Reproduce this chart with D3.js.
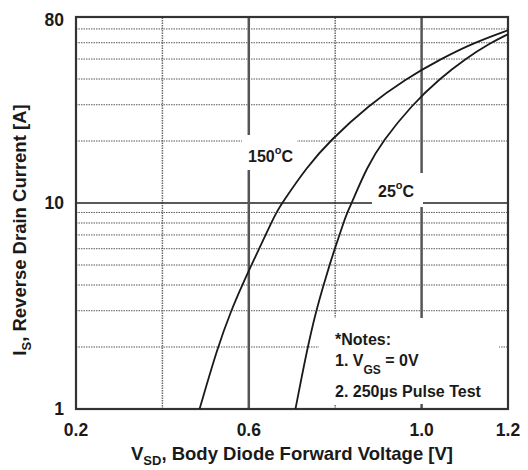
<!DOCTYPE html>
<html>
<head>
<meta charset="utf-8">
<script src="https://cdn.jsdelivr.net/npm/d3@7"></script>
<style>
  html, body { margin: 0; padding: 0; background: #fff; }
  svg { display: block; }
  text { font-family: "Liberation Sans", Arial, sans-serif; font-weight: bold; fill: #1a1a1a; }
</style>
</head>
<body>
<svg id="chart" width="528" height="470"></svg>
<script>
// ---- data ----
const current150 = [1, 2, 3, 4, 5, 6, 7, 8, 9, 10, 15, 20, 30, 40, 50, 60, 69];
const voltage150 = [0.486, 0.528, 0.559, 0.585, 0.606, 0.624, 0.639, 0.652, 0.664, 0.677, 0.735, 0.787, 0.879, 0.963, 1.044, 1.121, 1.200];
const current25  = [1, 2, 3, 4, 5, 6, 7, 8, 9, 10, 15, 20, 30, 40, 50, 60, 66];
const voltage25  = [0.708, 0.736, 0.756, 0.773, 0.787, 0.799, 0.810, 0.819, 0.828, 0.838, 0.874, 0.910, 0.978, 1.041, 1.100, 1.160, 1.200];
const xTickLabels = [0.2, 0.6, 1.0, 1.2];
const yTickLabels = [1, 10, 80];
const xGridMajor = [0.6, 1.0];
const xGridMinor = [0.4, 0.8];
const yGridMajor = [10];
const yGridMinor = [2, 3, 4, 5, 6, 7, 8, 9, 20, 30, 40, 50, 60, 70];

// ---- layout ----
const W = 528, H = 470;
const m = { left: 76, right: 20, top: 17, bottom: 61 };
const svg = d3.select("#chart");
const x = d3.scaleLinear().domain([0.2, 1.2]).range([m.left, W - m.right]);
const y = d3.scaleLog().domain([1, 80]).range([H - m.bottom, m.top]);

const g = svg.append("g");

// grid lines
g.selectAll(".hmin").data(yGridMinor).join("line")
  .attr("x1", x(0.2)).attr("x2", x(1.2))
  .attr("y1", d => y(d)).attr("y2", d => y(d))
  .attr("stroke", "#5a5a5a").attr("stroke-width", 1).attr("stroke-dasharray", "1.5,1");
g.selectAll(".vmin").data(xGridMinor).join("line")
  .attr("x1", d => x(d)).attr("x2", d => x(d))
  .attr("y1", y(1)).attr("y2", y(80))
  .attr("stroke", "#6a6a6a").attr("stroke-width", 1.5).attr("stroke-dasharray", "1.5,1");
g.selectAll(".hmaj").data(yGridMajor).join("line")
  .attr("x1", x(0.2)).attr("x2", x(1.2))
  .attr("y1", d => y(d)).attr("y2", d => y(d))
  .attr("stroke", "#222").attr("stroke-width", 1.6);
g.selectAll(".vmaj").data(xGridMajor).join("line")
  .attr("x1", d => x(d)).attr("x2", d => x(d))
  .attr("y1", y(1)).attr("y2", y(80))
  .attr("stroke", "#555").attr("stroke-width", 2.5);

// label backgrounds (gaps in the grid)
const lab150 = { x: 248, y: 162 };
const lab25 = { x: 378, y: 197 };
const notes = { x: 335, y: 345 };
const bg = g.append("g");
bg.append("rect").attr("x", lab150.x - 6).attr("y", lab150.y - 27).attr("width", 55).attr("height", 35).attr("fill", "#fff");
bg.append("rect").attr("x", lab25.x - 6).attr("y", lab25.y - 24).attr("width", 51).attr("height", 34).attr("fill", "#fff");
bg.append("rect").attr("x", notes.x - 16).attr("y", notes.y - 27).attr("width", 180).attr("height", 86).attr("fill", "#fff");

// frame
g.append("rect").attr("x", x(0.2)).attr("y", y(80))
  .attr("width", x(1.2) - x(0.2)).attr("height", y(1) - y(80))
  .attr("fill", "none").attr("stroke", "#333").attr("stroke-width", 2.2);

// curves
const line = d3.line().x(d => x(d[0])).y(d => y(d[1])).curve(d3.curveBasis);
[[voltage150, current150], [voltage25, current25]].forEach(([vs, is]) => {
  g.append("path").datum(vs.map((v, i) => [v, is[i]]))
    .attr("d", line).attr("fill", "none").attr("stroke", "#1a1a1a").attr("stroke-width", 1.8);
});

// curve labels
function tempLabel(pos, num) {
  const t = g.append("text").attr("x", pos.x).attr("y", pos.y).attr("font-size", 16);
  t.append("tspan").text(num);
  t.append("tspan").attr("font-size", 11).attr("dy", -8).text("o");
  t.append("tspan").attr("dy", 8).text("C");
}
tempLabel(lab150, "150");
tempLabel(lab25, "25");

// notes
g.append("text").attr("x", notes.x).attr("y", notes.y).attr("font-size", 16).text("*Notes:");
const n1 = g.append("text").attr("x", notes.x).attr("y", notes.y + 21).attr("font-size", 16);
n1.append("tspan").text("1. V");
n1.append("tspan").attr("font-size", 12).attr("dy", 8).text("GS");
n1.append("tspan").attr("dy", -8).text(" = 0V");
g.append("text").attr("x", notes.x).attr("y", notes.y + 52).attr("font-size", 16).text("2. 250\u00b5s Pulse Test");

// tick labels
g.selectAll(".xt").data(xTickLabels).join("text")
  .attr("x", d => x(d)).attr("y", 436).attr("text-anchor", "middle").attr("font-size", 17.5)
  .text(d => d.toFixed(1));
g.selectAll(".yt").data(yTickLabels).join("text")
  .attr("x", 64).attr("y", d => Math.max(y(d) + 6, 26)).attr("text-anchor", "end").attr("font-size", 17.5)
  .text(d => d);

// axis titles
const xt = g.append("text").attr("x", 292).attr("y", 460).attr("text-anchor", "middle").attr("font-size", 18.5);
xt.append("tspan").text("V");
xt.append("tspan").attr("font-size", 13).attr("dy", 5).text("SD");
xt.append("tspan").attr("dy", -5).text(", Body Diode Forward Voltage [V]");

const yt = g.append("text").attr("transform", "translate(26,230) rotate(-90)").attr("text-anchor", "middle").attr("font-size", 18.5);
yt.append("tspan").text("I");
yt.append("tspan").attr("font-size", 13).attr("dy", 5).text("S");
yt.append("tspan").attr("dy", -5).text(", Reverse Drain Current [A]");
</script>
</body>
</html>
